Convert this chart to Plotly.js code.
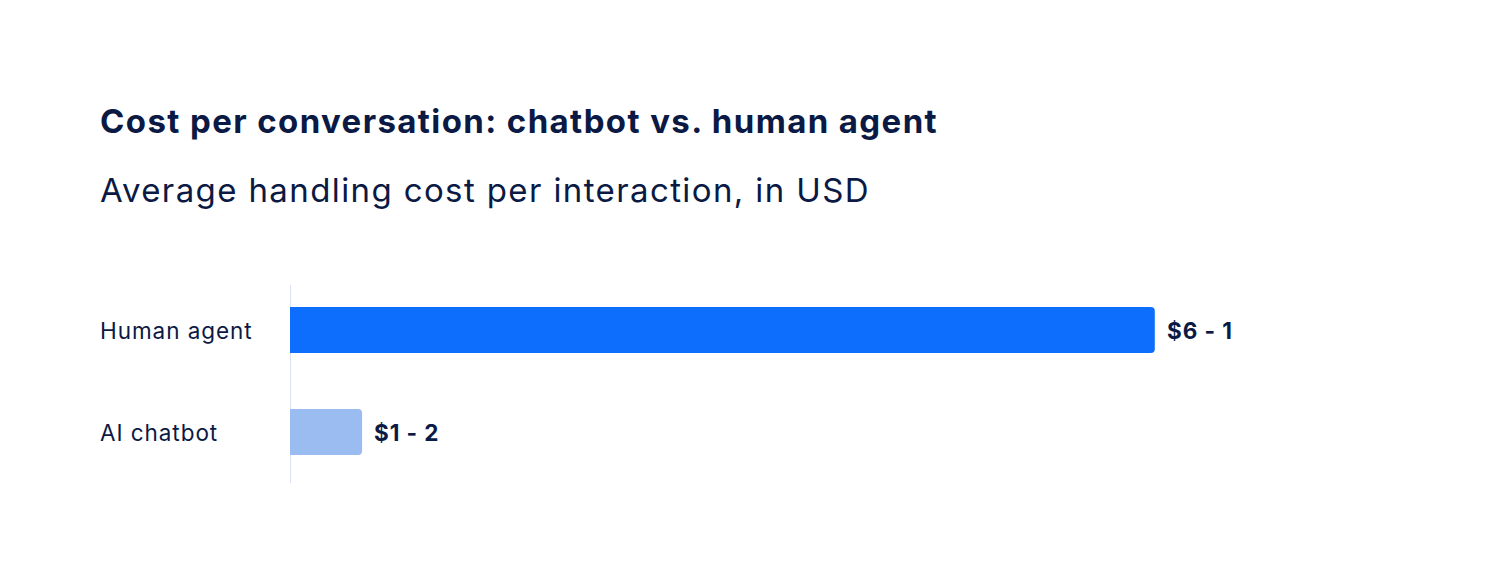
<!DOCTYPE html>
<html>
<head>
<meta charset="utf-8">
<script src="https://cdn.plot.ly/plotly-3.0.1.min.js"></script>
<style>
  html, body { margin: 0; padding: 0; background: #ffffff; }
  #chart { width: 1488px; height: 582px; }
  /* the reference type is tracked a little wider than the installed Inter;
     not scoped to #chart so Plotly's hidden measuring node sees it too */
  .annotation-text { letter-spacing: 0.042em; }
</style>
</head>
<body>
<div id="chart"></div>
<script>
// Chart data
const categories = ["Human agent", "AI chatbot"];
const costs = [12, 1];
const costLabels = ["$6 - 1", "$1 - 2"];
const barColors = ["#0d6efd", "#9bbcf0"];

const TITLE = "Cost per conversation: chatbot vs. human agent";
const SUBTITLE = "Average handling cost per interaction, in USD";

const INK = "#0b1a44";
const FONT = "Inter, sans-serif";

// Plot area in pixels
const W = 1488, H = 582;
const M = { l: 290, r: 117, t: 279, b: 99 };
const plotW = W - M.l - M.r;
const plotH = H - M.t - M.b;
const paperX = (px) => (px - M.l) / plotW;
const paperY = (py) => (H - M.b - py) / plotH;

const annotations = [
  {
    xref: "paper", yref: "paper", x: paperX(98), y: paperY(121),
    xanchor: "left", yanchor: "middle", showarrow: false,
    text: "<b>" + TITLE + "</b>", font: { family: FONT, size: 33, color: INK },
  },
  {
    xref: "paper", yref: "paper", x: paperX(98), y: paperY(190),
    xanchor: "left", yanchor: "middle", showarrow: false,
    text: SUBTITLE, font: { family: FONT, size: 33, color: INK },
  },
];

categories.forEach((c, i) => {
  // left-aligned category label
  annotations.push({
    xref: "paper", yref: "y", x: paperX(98), y: c,
    xanchor: "left", yanchor: "middle", showarrow: false,
    text: c, font: { family: FONT, size: 22.5, color: INK },
  });
  // value label right of the bar
  annotations.push({
    xref: "x", yref: "y", x: costs[i], y: c,
    xanchor: "left", yanchor: "middle", showarrow: false, xshift: 10,
    text: "<b>" + costLabels[i] + "</b>", font: { family: FONT, size: 22.5, color: INK },
  });
});

// thin baseline at zero, a little shorter than the plot area at the top
const shapes = [{
  type: "line", xref: "x", yref: "paper", x0: 0, x1: 0, y0: 0, y1: paperY(285),
  line: { color: "#b4c8ea", width: 1 }, layer: "below",
}];

Plotly.newPlot(
  "chart",
  [{
    type: "bar", orientation: "h",
    x: costs, y: categories,
    marker: { color: barColors, cornerradius: 4 },
    hoverinfo: "skip",
  }],
  {
    width: W, height: H,
    margin: M,
    paper_bgcolor: "#ffffff", plot_bgcolor: "#ffffff",
    font: { family: FONT, color: INK },
    showlegend: false,
    bargap: 0.55,
    xaxis: {
      range: [0, 15], showgrid: false, showticklabels: false, ticks: "",
      zeroline: false, showline: false,
    },
    yaxis: {
      type: "category", autorange: "reversed", showgrid: false,
      showticklabels: false, ticks: "", zeroline: false, showline: false,
    },
    shapes,
    annotations,
  },
  { displayModeBar: false, staticPlot: true },
);
</script>
</body>
</html>
